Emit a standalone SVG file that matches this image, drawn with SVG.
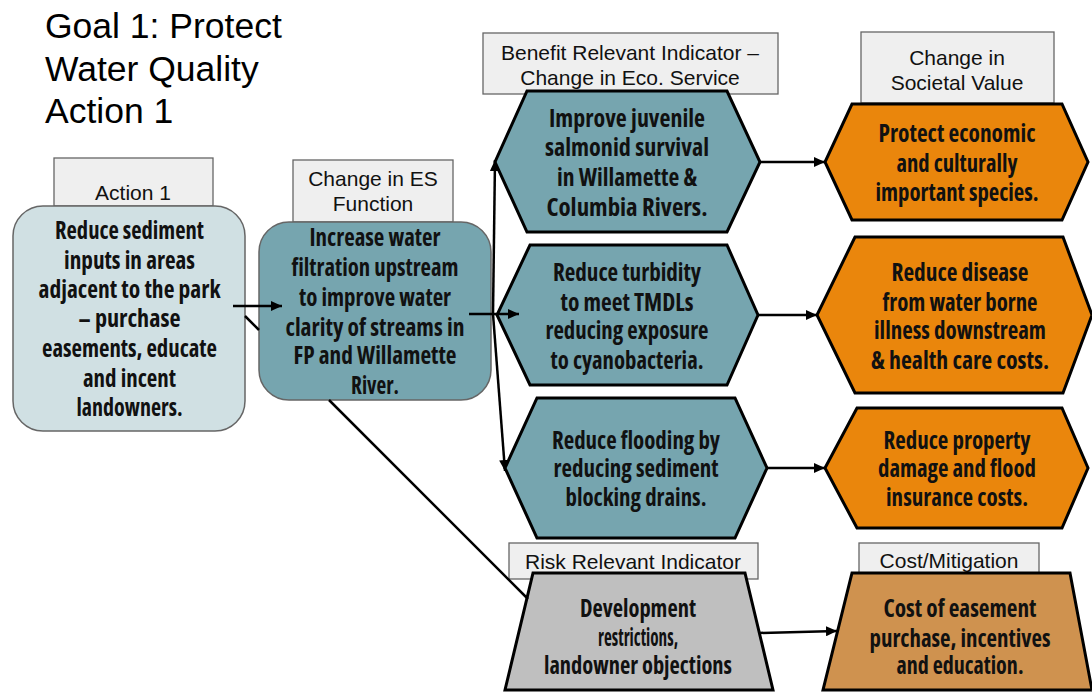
<svg xmlns="http://www.w3.org/2000/svg" width="1092" height="692" viewBox="0 0 1092 692">
  <defs>
    <marker id="arrow" markerUnits="userSpaceOnUse" markerWidth="12" markerHeight="10" refX="11" refY="5" orient="auto">
      <path d="M0,0 L11,5 L0,10 z" fill="#000"/>
    </marker>
    <style>
      .title { font-family: "Liberation Sans", Arial, sans-serif; font-size: 35.5px; fill: #000; }
      .lbl-box { fill: #efefef; stroke: #666; stroke-width: 1.3; }
      .lbl { font-family: "Liberation Sans", Arial, sans-serif; font-size: 21px; fill: #111; text-anchor: middle; }
      .body { font-family: "Open Sans", "DejaVu Sans Condensed", sans-serif; font-stretch: 75%; font-weight: bold; font-size: 24px; fill: #111; text-anchor: middle; }
      .round { stroke: #666; stroke-width: 1.5; }
      .shape { stroke: #000; stroke-width: 3; stroke-linejoin: miter; }
      .teal { fill: #76a5af; }
      .pale { fill: #d0e0e3; }
      .orange { fill: #ea860c; }
      .grey { fill: #bfbfbf; }
      .tan { fill: #cf924f; }
      .conn { fill: none; stroke: #000; stroke-width: 2.5; }
    </style>
  </defs>

  <rect width="1092" height="692" fill="#fff"/>

  <!-- heading -->
  <g id="heading">
    <text class="title" x="45" y="38">Goal 1: Protect</text>
    <text class="title" x="45" y="81">Water Quality</text>
    <text class="title" x="45" y="123">Action 1</text>
  </g>

  <!-- action -->
  <g id="action">
    <rect class="lbl-box" x="54" y="158" width="159" height="48"/>
    <text class="lbl" x="133" y="199.5">Action 1</text>
    <rect class="round pale" x="13" y="206" width="232" height="225" rx="30"/>
    <text class="body" x="129.5" y="238.5" textLength="149" lengthAdjust="spacingAndGlyphs">Reduce sediment</text>
    <text class="body" x="129.5" y="268.5" textLength="131" lengthAdjust="spacingAndGlyphs">inputs in areas</text>
    <text class="body" x="129.5" y="298" textLength="182" lengthAdjust="spacingAndGlyphs">adjacent to the park</text>
    <text class="body" x="129.5" y="326.5" textLength="102" lengthAdjust="spacingAndGlyphs">– purchase</text>
    <text class="body" x="129.5" y="356.5" textLength="175" lengthAdjust="spacingAndGlyphs">easements, educate</text>
    <text class="body" x="129.5" y="386.5" textLength="93" lengthAdjust="spacingAndGlyphs">and incent</text>
    <text class="body" x="129.5" y="415.5" textLength="106" lengthAdjust="spacingAndGlyphs">landowners.</text>
  </g>

  <!-- change in ecosystem service function -->
  <g id="es-function">
    <rect class="lbl-box" x="293" y="160" width="160" height="62"/>
    <text class="lbl" x="373" y="185.5">Change in ES</text>
    <text class="lbl" x="373" y="210.5">Function</text>
    <rect class="round teal" x="259" y="222" width="232" height="178" rx="30"/>
    <text class="body" x="375" y="245.5" textLength="131" lengthAdjust="spacingAndGlyphs">Increase water</text>
    <text class="body" x="375" y="275.5" textLength="167" lengthAdjust="spacingAndGlyphs">filtration upstream</text>
    <text class="body" x="375" y="305.5" textLength="152" lengthAdjust="spacingAndGlyphs">to improve water</text>
    <text class="body" x="375" y="335.5" textLength="179" lengthAdjust="spacingAndGlyphs">clarity of streams in</text>
    <text class="body" x="375" y="363.5" textLength="163" lengthAdjust="spacingAndGlyphs">FP and Willamette</text>
    <text class="body" x="375" y="393.5" textLength="48" lengthAdjust="spacingAndGlyphs">River.</text>
  </g>

  <!-- benefit relevant indicators -->
  <g id="bri-label">
    <rect class="lbl-box" x="483" y="33" width="295" height="61"/>
    <text class="lbl" x="630" y="59.5">Benefit Relevant Indicator –</text>
    <text class="lbl" x="630" y="84.5">Change in Eco. Service</text>
  </g>

  <g id="bri-salmon">
    <polygon class="shape teal" points="527,91 727,91 760,162 727,232 527,232 495,162"/>
    <text class="body" x="627" y="126.5" textLength="156" lengthAdjust="spacingAndGlyphs">Improve juvenile</text>
    <text class="body" x="627" y="155.5" textLength="164" lengthAdjust="spacingAndGlyphs">salmonid survival</text>
    <text class="body" x="627" y="185.5" textLength="140" lengthAdjust="spacingAndGlyphs">in Willamette &amp;</text>
    <text class="body" x="627" y="215.5" textLength="161" lengthAdjust="spacingAndGlyphs">Columbia Rivers.</text>
  </g>

  <g id="bri-turbidity">
    <polygon class="shape teal" points="530,245 727,245 758,315 727,385 530,385 497,315"/>
    <text class="body" x="627" y="280.5" textLength="148" lengthAdjust="spacingAndGlyphs">Reduce turbidity</text>
    <text class="body" x="627" y="310.5" textLength="133" lengthAdjust="spacingAndGlyphs">to meet TMDLs</text>
    <text class="body" x="627" y="338.5" textLength="163" lengthAdjust="spacingAndGlyphs">reducing exposure</text>
    <text class="body" x="627" y="368.5" textLength="153" lengthAdjust="spacingAndGlyphs">to cyanobacteria.</text>
  </g>

  <g id="bri-flooding">
    <polygon class="shape teal" points="537,398 735,398 767,468 735,538 537,538 505,468"/>
    <text class="body" x="636" y="448.5" textLength="168" lengthAdjust="spacingAndGlyphs">Reduce flooding by</text>
    <text class="body" x="636" y="476.5" textLength="165" lengthAdjust="spacingAndGlyphs">reducing sediment</text>
    <text class="body" x="636" y="505.5" textLength="141" lengthAdjust="spacingAndGlyphs">blocking drains.</text>
  </g>

  <!-- change in societal value -->
  <g id="value-label">
    <rect class="lbl-box" x="861" y="32" width="193" height="71"/>
    <text class="lbl" x="957" y="64.5">Change in</text>
    <text class="lbl" x="957" y="89.5">Societal Value</text>
  </g>

  <g id="value-species">
    <polygon class="shape orange" points="852,104 1062,104 1088,162 1062,220 852,220 825,162"/>
    <text class="body" x="957" y="141.5" textLength="157" lengthAdjust="spacingAndGlyphs">Protect economic</text>
    <text class="body" x="957" y="171.5" textLength="121" lengthAdjust="spacingAndGlyphs">and culturally</text>
    <text class="body" x="957" y="200.5" textLength="163" lengthAdjust="spacingAndGlyphs">important species.</text>
  </g>

  <g id="value-health">
    <polygon class="shape orange" points="855,237 1063,237 1092,315 1063,393 855,393 817,315"/>
    <text class="body" x="960" y="280.5" textLength="137" lengthAdjust="spacingAndGlyphs">Reduce disease</text>
    <text class="body" x="960" y="310.5" textLength="155" lengthAdjust="spacingAndGlyphs">from water borne</text>
    <text class="body" x="960" y="338.5" textLength="172" lengthAdjust="spacingAndGlyphs">illness downstream</text>
    <text class="body" x="960" y="368.5" textLength="178" lengthAdjust="spacingAndGlyphs">&amp; health care costs.</text>
  </g>

  <g id="value-property">
    <polygon class="shape orange" points="857,408 1062,408 1088,468 1062,528 857,528 825,468"/>
    <text class="body" x="957" y="448.5" textLength="147" lengthAdjust="spacingAndGlyphs">Reduce property</text>
    <text class="body" x="957" y="476.5" textLength="158" lengthAdjust="spacingAndGlyphs">damage and flood</text>
    <text class="body" x="957" y="505.5" textLength="142" lengthAdjust="spacingAndGlyphs">insurance costs.</text>
  </g>

  <!-- risk relevant indicator -->
  <g id="risk">
    <rect class="lbl-box" x="509" y="543" width="249" height="36"/>
    <text class="lbl" x="633" y="568.5">Risk Relevant Indicator</text>
    <polygon class="shape grey" points="533,573 745,573 773,690 505,690"/>
    <text class="body" x="638" y="616.5" textLength="116" lengthAdjust="spacingAndGlyphs">Development</text>
    <text class="body" x="638" y="645.5" textLength="80" lengthAdjust="spacingAndGlyphs">restrictions,</text>
    <text class="body" x="638" y="673.5" textLength="188" lengthAdjust="spacingAndGlyphs">landowner objections</text>
  </g>

  <!-- cost / mitigation -->
  <g id="cost">
    <rect class="lbl-box" x="859" y="543" width="180" height="31"/>
    <text class="lbl" x="949" y="567.5">Cost/Mitigation</text>
    <polygon class="shape tan" points="852,573 1070,573 1092,690 823,690"/>
    <text class="body" x="960" y="616.5" textLength="153" lengthAdjust="spacingAndGlyphs">Cost of easement</text>
    <text class="body" x="960" y="646.5" textLength="181" lengthAdjust="spacingAndGlyphs">purchase, incentives</text>
    <text class="body" x="960" y="673.5" textLength="127" lengthAdjust="spacingAndGlyphs">and education.</text>
  </g>

  <!-- connectors -->
  <g id="connectors">
    <!-- action to risk, passing behind the function box -->
    <path class="conn" d="M245,316 L259,330 M329,400 L528,599"/>
    <line class="conn" x1="233" y1="306" x2="282" y2="306" marker-end="url(#arrow)"/>
    <line class="conn" x1="469" y1="314" x2="519" y2="314" marker-end="url(#arrow)"/>
    <line class="conn" x1="493" y1="314" x2="495" y2="160" marker-end="url(#arrow)"/>
    <line class="conn" x1="493" y1="314" x2="505" y2="471" marker-end="url(#arrow)"/>
    <line class="conn" x1="760" y1="162" x2="825" y2="162" marker-end="url(#arrow)"/>
    <line class="conn" x1="758" y1="315" x2="817" y2="315" marker-end="url(#arrow)"/>
    <line class="conn" x1="767" y1="468" x2="825" y2="468" marker-end="url(#arrow)"/>
    <line class="conn" x1="759" y1="633" x2="837" y2="631" marker-end="url(#arrow)"/>
  </g>
</svg>
